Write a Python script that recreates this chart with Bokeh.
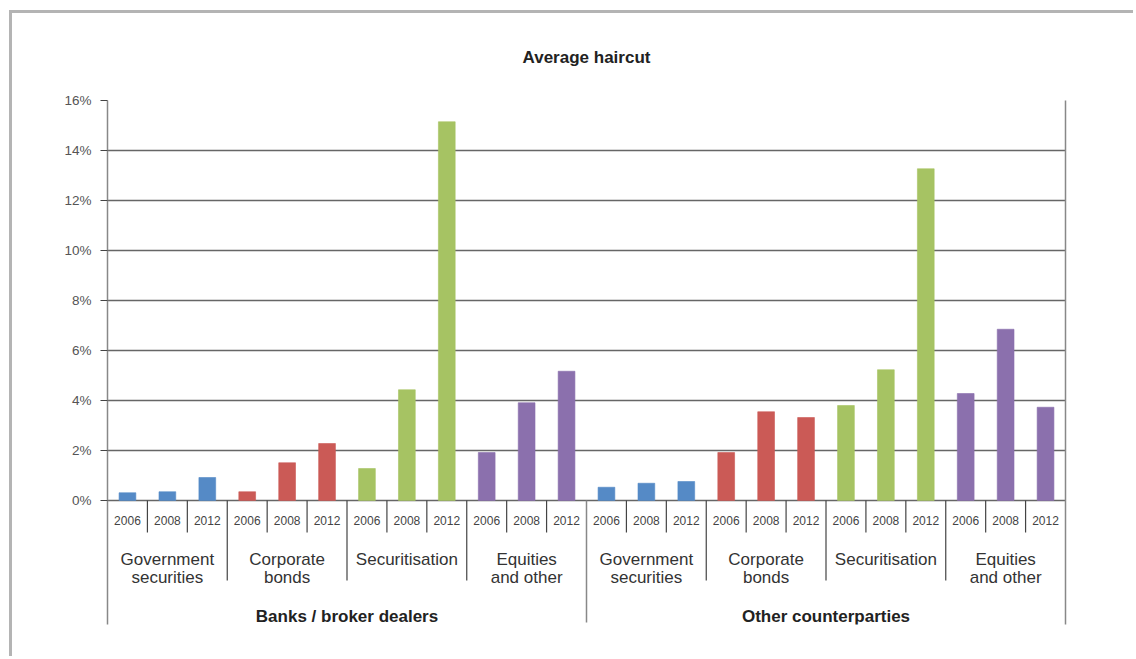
from bokeh.plotting import figure
from bokeh.models import (Range1d, FixedTicker, PrintfTickFormatter, LinearAxis,
                          ColumnDataSource)
from bokeh.core.properties import value
from bokeh.embed import file_html
from bokeh.resources import INLINE

# ---- data ----
groups = ["Banks / broker dealers", "Other counterparties"]
assets = ["Government\nsecurities", "Corporate\nbonds", "Securitisation", "Equities\nand other"]
years = ["2006", "2008", "2012"]
asset_colors = ["#558ac6", "#cb5a56", "#a6c363", "#8b70ad"]

banks_values = [0.31, 0.35, 0.92,
                0.35, 1.51, 2.28,
                1.28, 4.43, 15.15,
                1.92, 3.91, 5.17]
other_values = [0.53, 0.69, 0.76,
                1.92, 3.55, 3.32,
                3.80, 5.23, 13.27,
                4.28, 6.85, 3.73]
y_ticks = [0, 2, 4, 6, 8, 10, 12, 14, 16]

FONT = "Liberation Sans"
Y_BOTTOM = -4.96

values = banks_values + other_values
n = len(values)
xs = [i + 0.5 for i in range(n)]
colors = [asset_colors[(i // 3) % 4] for i in range(n)]

p = figure(width=1124, height=646, output_backend="svg", toolbar_location=None,
           x_range=Range1d(0, n), y_range=Range1d(Y_BOTTOM, 16),
           min_border_left=95, min_border_right=71, min_border_top=87,
           min_border_bottom=35, x_axis_type=None,
           styles={"margin-left": "9px", "margin-top": "10px",
                   "border-left": "3px solid #b4b4b4",
                   "border-top": "3px solid #b4b4b4"})
p.outline_line_color = None
p.xgrid.visible = False

p.title.text = "Average haircut"
p.title.align = "center"
p.title.vertical_align = "middle"
p.title.text_font = FONT
p.title.text_font_size = "17px"
p.title.text_font_style = "bold"
p.title.text_color = "#222222"
p.title.standoff = 66

# y axis
ya = p.yaxis[0]
ya.ticker = FixedTicker(ticks=y_ticks)
ya.formatter = PrintfTickFormatter(format="%d%%")
ya.major_label_text_font = FONT
ya.major_label_text_font_size = "13.5px"
ya.major_label_text_color = "#555555"
ya.major_tick_in = 0
ya.major_tick_out = 7
ya.major_tick_line_color = "#444444"
ya.minor_tick_line_color = None
ya.axis_line_color = "#888888"
ya.axis_line_width = 1.5
ya.major_label_standoff = 9

p.ygrid.ticker = FixedTicker(ticks=y_ticks)
p.ygrid.grid_line_color = "#666666"
p.ygrid.grid_line_width = 1.3

ra = LinearAxis(ticker=FixedTicker(ticks=[]), major_label_text_font_size="0px",
                major_tick_line_color=None, minor_tick_line_color=None,
                axis_line_color="#888888", axis_line_width=1.5)
p.add_layout(ra, "right")

# bars
src = ColumnDataSource(dict(x=xs, top=values, color=colors))
p.vbar(x="x", top="top", bottom=0, width=0.42, source=src,
       fill_color="color", line_color="color", line_alpha=0.6)

# year labels
yl = ColumnDataSource(dict(x=xs, y=[-0.8] * n, t=[years[i % 3] for i in range(n)]))
p.text(x="x", y="y", text="t", source=yl, text_font=value(FONT),
       text_font_size="12px", text_color="#444444", text_align="center",
       text_baseline="middle")

# asset labels
na = n // 3
al = ColumnDataSource(dict(x=[3 * k + 1.5 for k in range(na)], y=[-1.98] * na,
                           t=[assets[k % 4] for k in range(na)]))
p.text(x="x", y="y", text="t", source=al, text_font=value(FONT),
       text_font_size="17px", text_color="#333333", text_align="center",
       text_baseline="top", text_line_height=0.95)

# group labels
gl = ColumnDataSource(dict(x=[6, 18], y=[-4.62, -4.62], t=groups))
p.text(x="x", y="y", text="t", source=gl, text_font=value(FONT),
       text_font_size="17px", text_font_style="bold", text_color="#222222",
       text_align="center", text_baseline="middle")

# separators
yr_b = [b for b in range(1, n) if b % 3 != 0]
as_b = [b for b in range(3, n, 3) if b % 12 != 0]
gr_b = [12]
p.segment(x0=yr_b, x1=yr_b, y0=[0] * len(yr_b), y1=[-1.28] * len(yr_b),
          line_color="#444444", line_width=1.2)
p.segment(x0=as_b, x1=as_b, y0=[0] * len(as_b), y1=[-3.2] * len(as_b),
          line_color="#444444", line_width=1.2)
p.segment(x0=gr_b, x1=gr_b, y0=[0], y1=[-4.88], line_color="#888888", line_width=1.5)

open("out.html", "w").write(file_html(p, INLINE))
